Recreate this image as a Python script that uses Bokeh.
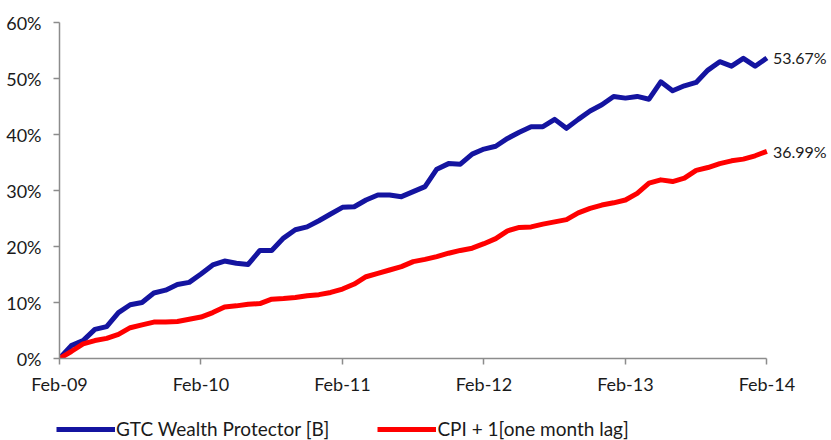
from bokeh.plotting import figure
from bokeh.layouts import column
from bokeh.core.properties import value
from bokeh.models import (ColumnDataSource, FixedTicker, Range1d, Legend, LegendItem,
                          LabelSet, PrintfTickFormatter)
from bokeh.embed import file_html
from bokeh.resources import INLINE

# Monthly cumulative returns, Feb-09 .. Feb-14 (61 month-end points), in %
gtc = [0.0, 2.3, 3.2, 5.2, 5.7, 8.2, 9.6, 10.0, 11.7, 12.2, 13.2, 13.6, 15.1,
       16.7, 17.4, 17.0, 16.8, 19.3, 19.3, 21.5, 23.0, 23.5, 24.6, 25.8, 27.0,
       27.1, 28.3, 29.2, 29.2, 28.9, 29.8, 30.7, 33.8, 34.8, 34.7, 36.5, 37.4,
       37.9, 39.3, 40.4, 41.4, 41.4, 42.7, 41.1, 42.7, 44.2, 45.3, 46.8, 46.5,
       46.8, 46.3, 49.4, 47.8, 48.7, 49.3, 51.5, 53.0, 52.2, 53.6, 52.2, 53.67]
cpi = [0.0, 1.25, 2.6, 3.2, 3.6, 4.3, 5.5, 6.0, 6.5, 6.5, 6.6, 7.0, 7.4,
       8.2, 9.2, 9.4, 9.7, 9.8, 10.6, 10.7, 10.9, 11.2, 11.4, 11.8, 12.4,
       13.3, 14.6, 15.2, 15.8, 16.4, 17.3, 17.7, 18.2, 18.8, 19.3, 19.7, 20.5,
       21.4, 22.8, 23.4, 23.5, 24.0, 24.4, 24.8, 26.0, 26.8, 27.4, 27.8, 28.3,
       29.5, 31.3, 31.9, 31.6, 32.2, 33.6, 34.1, 34.8, 35.3, 35.6, 36.2, 36.99]
months = list(range(len(gtc)))
tick_pos = [0, 12, 24, 36, 48, 60]
tick_labels = ["Feb-09", "Feb-10", "Feb-11", "Feb-12", "Feb-13", "Feb-14"]
y_ticks = [0, 10, 20, 30, 40, 50, 60]
series_names = ["GTC Wealth Protector [B]", "CPI + 1[one month lag]"]

BLUE = "#1414A0"
RED = "#FF0000"
FONT = "Lato"
AXIS_GREY = "#8C8C8C"
TXT = "#1a1a1a"

W = 831
LEFT, TOP, BOTTOM = 59, 22, 52
FRAME_W, FRAME_H = W - LEFT, 336
LEG_H = 30
px_per_month = 707.4 / 60.0
x_max = FRAME_W / px_per_month

p = figure(frame_width=FRAME_W, frame_height=FRAME_H, output_backend="svg",
           toolbar_location=None,
           x_range=Range1d(0, x_max), y_range=Range1d(0, 60),
           min_border_left=LEFT, min_border_right=0, min_border_top=TOP,
           min_border_bottom=BOTTOM)
p.outline_line_color = None
p.xgrid.visible = False
p.ygrid.visible = False

src = ColumnDataSource(dict(m=months, gtc=gtc, cpi=cpi))
r1 = p.line("m", "gtc", source=src, line_color=BLUE, line_width=5, line_join="round")
r2 = p.line("m", "cpi", source=src, line_color=RED, line_width=5, line_join="round")

for ax in (p.xaxis[0], p.yaxis[0]):
    ax.axis_line_color = AXIS_GREY
    ax.axis_line_width = 1.5
    ax.major_tick_line_color = AXIS_GREY
    ax.major_tick_line_width = 1.5
    ax.major_tick_in = 0
    ax.major_tick_out = 6
    ax.minor_tick_line_color = None
    ax.major_label_text_font = FONT
    ax.major_label_text_font_size = "18px"
    ax.major_label_text_color = TXT

p.xaxis.ticker = FixedTicker(ticks=tick_pos)
p.xaxis.bounds = (0, 60)
p.xaxis.major_label_overrides = {t: l for t, l in zip(tick_pos, tick_labels)}
p.xaxis.major_label_standoff = 8
p.yaxis.ticker = FixedTicker(ticks=y_ticks)
p.yaxis.formatter = PrintfTickFormatter(format="%d%%")
p.yaxis.major_label_standoff = 12

end_src = ColumnDataSource(dict(x=[months[-1], months[-1]], y=[gtc[-1], cpi[-1]],
                                t=[f"{gtc[-1]:.2f}%", f"{cpi[-1]:.2f}%"]))
labels = LabelSet(x="x", y="y", text="t", source=end_src, x_offset=6,
                  text_baseline="middle", text_font=value(FONT),
                  text_font_size="16px", text_color=TXT)
p.add_layout(labels)

# Legend strip underneath the chart (its sample lines sit outside the visible range)
leg = figure(frame_width=W, frame_height=LEG_H, output_backend="svg",
             toolbar_location=None, x_range=Range1d(0, 1), y_range=Range1d(0, 1),
             min_border=0, x_axis_location=None, y_axis_location=None)
leg.outline_line_color = None
leg.xgrid.visible = False
leg.ygrid.visible = False
hidden = ColumnDataSource(dict(x=[5, 6], y=[5, 5]))
l1 = leg.line("x", "y", source=hidden, line_color=BLUE, line_width=5)
l2 = leg.line("x", "y", source=hidden, line_color=RED, line_width=5)
legend = Legend(items=[LegendItem(label=series_names[0], renderers=[l1]),
                       LegendItem(label=series_names[1], renderers=[l2])],
                location=(56, 0), orientation="horizontal",
                glyph_width=59, glyph_height=20, label_standoff=1, spacing=48,
                padding=0, margin=0, border_line_alpha=0, background_fill_alpha=0,
                label_text_font=FONT, label_text_font_size="19px",
                label_text_color=TXT)
leg.add_layout(legend, "center")

layout = column(p, leg, spacing=0)
open("out.html", "w").write(file_html(layout, INLINE))
